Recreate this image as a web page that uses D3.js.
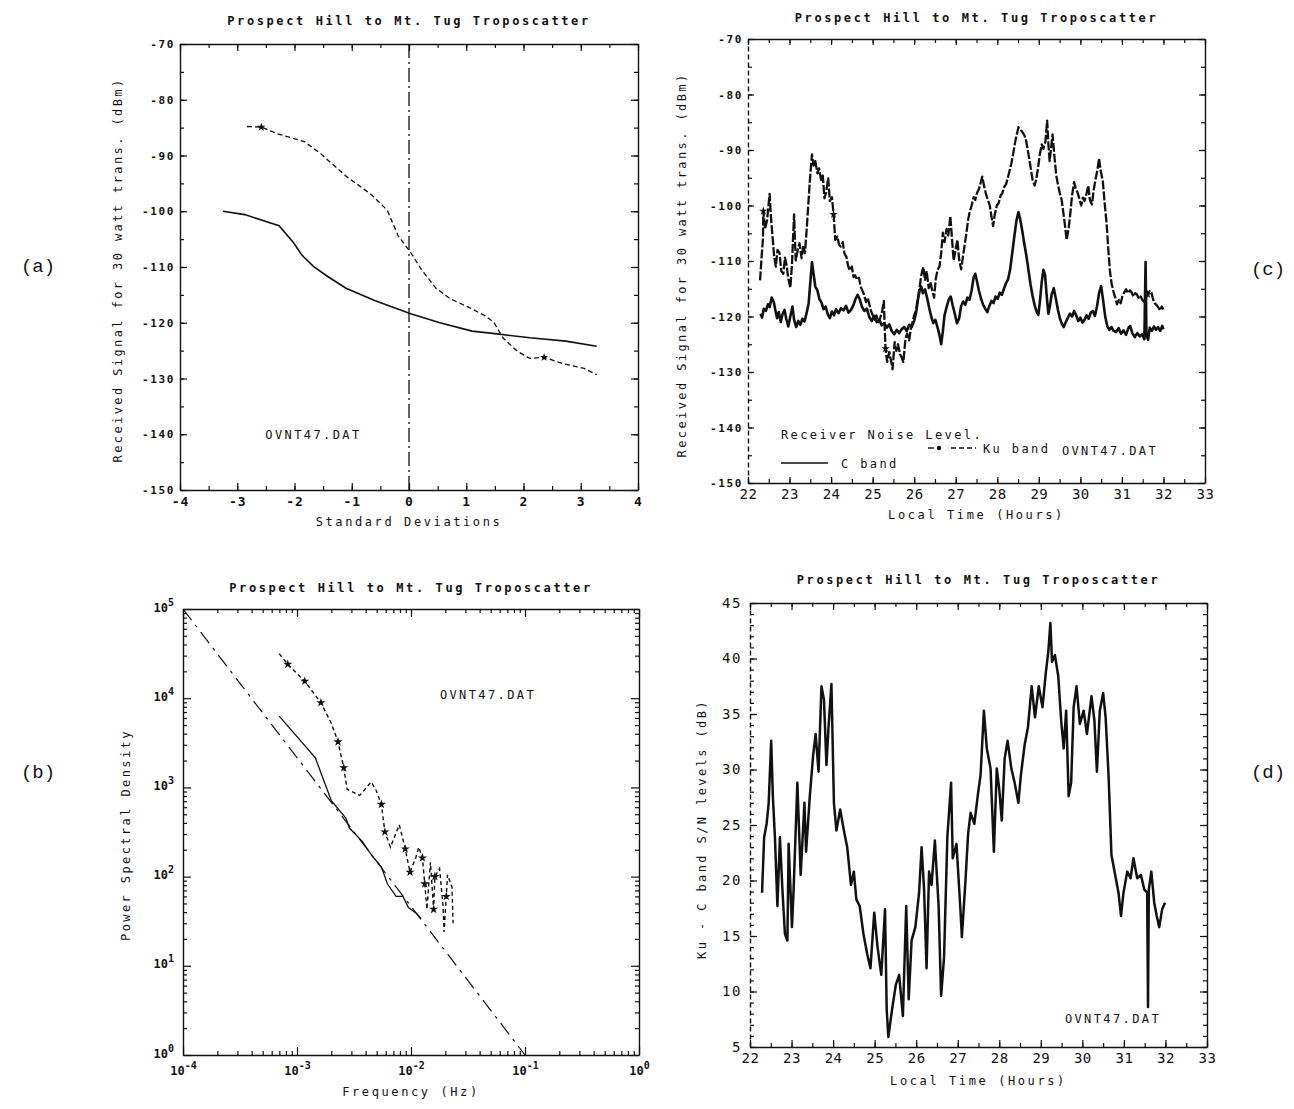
<!DOCTYPE html>
<html>
<head>
<meta charset="utf-8">
<script src="https://cdn.jsdelivr.net/npm/d3@7"></script>
<style>
  body { margin: 0; background: #fff; }
  svg text { font-family: 'DejaVu Sans Mono', monospace; fill: #111; }
  .tick line { stroke: #111; stroke-width: 1.2; }
  .domain { stroke: #111; stroke-width: 1.4; }
</style>
</head>
<body>
<script>
const W = 1294;
const H = 1109;
const TITLE = 'Prospect Hill to Mt. Tug Troposcatter';
const FILE = 'OVNT47.DAT';

// (a) cumulative distribution, standard deviations vs dBm
const aCband = [[-3.25, -100], [-2.87, -100.6], [-2.27, -102.6], [-2.02, -105.6], [-1.86, -108], [-1.67, -109.9],
  [-1.42, -111.7], [-1.1, -113.8], [-0.6, -116], [0.03, -118.4], [0.54, -120], [1.1, -121.5], [1.54, -122],
  [2.11, -122.7], [2.74, -123.3], [3.28, -124.2]];
const aKuband = [[-2.83, -84.8], [-2.58, -84.9], [-2.3, -86.1], [-1.83, -87.5], [-1.54, -89.7], [-1.1, -93.7],
  [-0.66, -97], [-0.38, -99.8], [-0.19, -104.4], [0.03, -107.4], [0.22, -110.5], [0.47, -113.8], [0.72, -115.7],
  [1.04, -117.2], [1.32, -118.7], [1.48, -119.9], [1.64, -122.7], [1.89, -125.1], [2.11, -126.4], [2.36, -126.2],
  [2.68, -127.3], [3.06, -128.2], [3.28, -129.3]];
const aKuMarks = [1, 19];
const aXTicks = [-4, -3, -2, -1, 0, 1, 2, 3, 4];
const aYTicks = [-70, -80, -90, -100, -110, -120, -130, -140, -150];

// (b) power spectral density, Hz vs PSD
const bCband = [[6.98e-4, 6300], [1.45e-3, 2140], [2.0e-3, 710], [2.69e-3, 450], [2.88e-3, 350], [3.72e-3, 250],
  [4.57e-3, 170], [5.5e-3, 129], [6.2e-3, 83], [7.4e-3, 60], [8.5e-3, 60], [9.5e-3, 45], [1.1e-2, 39], [1.23e-2, 34]];
const bKuband = [[6.98e-4, 31600], [8.3e-4, 24000], [1.17e-3, 15500], [1.62e-3, 8900], [2.0e-3, 5250],
  [2.29e-3, 3240], [2.57e-3, 1660], [2.75e-3, 955], [3.55e-3, 813], [4.47e-3, 1150], [4.9e-3, 955], [5.5e-3, 646],
  [5.9e-3, 316], [6.6e-3, 214], [7.9e-3, 380], [8.9e-3, 204], [9.8e-3, 112], [1.1e-2, 162], [1.17e-2, 214],
  [1.26e-2, 162], [1.32e-2, 83], [1.38e-2, 43], [1.48e-2, 145], [1.58e-2, 43], [1.62e-2, 100], [1.78e-2, 123],
  [1.91e-2, 47], [1.95e-2, 24], [2.04e-2, 60], [2.09e-2, 105], [2.29e-2, 76], [2.34e-2, 30]];
const bKuMarks = [1, 2, 3, 5, 6, 11, 12, 15, 16, 19, 20, 23, 24, 28];
const bSlope = [[1e-4, 1e5], [1e-1, 1]];
const bXTicks = [1e-4, 1e-3, 1e-2, 1e-1, 1];
const bYTicks = [1, 10, 100, 1e3, 1e4, 1e5];

// (c) received signal time series, hours vs dBm
const cCband = [[22.3, -119.5], [22.34, -120.2], [22.38, -118.6], [22.43, -119], [22.48, -117.8], [22.52, -118.3],
  [22.57, -116.6], [22.62, -117.4], [22.66, -118.9], [22.7, -120.3], [22.74, -119.2], [22.79, -121], [22.83, -119.6],
  [22.88, -118.8], [22.92, -120.4], [22.97, -121.8], [23.02, -119.9], [23.07, -118.2], [23.11, -120.6],
  [23.16, -121.9], [23.21, -120.8], [23.26, -121.5], [23.31, -120.4], [23.36, -120.9], [23.41, -119.4],
  [23.46, -117.6], [23.5, -113.8], [23.54, -110.2], [23.58, -112.4], [23.62, -114.6], [23.67, -115.3],
  [23.72, -116.9], [23.77, -117.5], [23.82, -118.7], [23.87, -118.2], [23.92, -119.6], [23.97, -120.3],
  [24.02, -119.1], [24.07, -119.8], [24.12, -118.7], [24.18, -119.4], [24.24, -118.5], [24.3, -118.9],
  [24.36, -118.1], [24.42, -119.3], [24.48, -118.8], [24.54, -117.9], [24.59, -116.8], [24.64, -116.1],
  [24.69, -116.9], [24.74, -118.2], [24.8, -119], [24.86, -118.6], [24.92, -120.1], [24.98, -120.8],
  [25.04, -119.9], [25.1, -121], [25.16, -120.6], [25.22, -121.6], [25.28, -121.2], [25.34, -122], [25.4, -121.4],
  [25.46, -122.6], [25.52, -123.2], [25.58, -122.4], [25.64, -123], [25.7, -122.3], [25.76, -121.9], [25.82, -122.6],
  [25.88, -121.5], [25.94, -121.9], [26, -120.8], [26.05, -119.2], [26.09, -117], [26.13, -115.4], [26.17, -114.6],
  [26.21, -115.8], [26.26, -115.1], [26.31, -116.6], [26.36, -118.4], [26.41, -120], [26.46, -121.2],
  [26.51, -120.6], [26.56, -121.9], [26.61, -123.4], [26.65, -125], [26.69, -122.7], [26.73, -119.8],
  [26.78, -118.3], [26.83, -117], [26.88, -116.4], [26.93, -118.1], [26.98, -119.6], [27.03, -121.2],
  [27.08, -120.4], [27.13, -118.1], [27.18, -117.3], [27.23, -117.9], [27.28, -116.6], [27.33, -117],
  [27.38, -115.4], [27.43, -113], [27.47, -112.3], [27.51, -113.6], [27.56, -115.4], [27.61, -116.8],
  [27.66, -117.9], [27.71, -118.6], [27.76, -119.2], [27.81, -118.1], [27.86, -117.2], [27.91, -117.6],
  [27.96, -116.4], [28.01, -116.8], [28.06, -115.7], [28.11, -116.1], [28.16, -115], [28.21, -114], [28.26, -113.3],
  [28.31, -111.5], [28.36, -108.6], [28.41, -105.6], [28.46, -102.8], [28.51, -101.2], [28.55, -102.4],
  [28.6, -104.5], [28.65, -106.9], [28.7, -109], [28.75, -111.6], [28.8, -114.2], [28.85, -116.3], [28.9, -118],
  [28.95, -119.2], [28.99, -119.7], [29.03, -117], [29.07, -113.8], [29.11, -111.6], [29.15, -112.5],
  [29.19, -116.3], [29.23, -119.5], [29.27, -118], [29.31, -116], [29.36, -114.9], [29.41, -116.8], [29.46, -118.8],
  [29.51, -120.4], [29.56, -121.4], [29.6, -121.9], [29.65, -121], [29.7, -120.2], [29.75, -119.5], [29.8, -120],
  [29.85, -119], [29.9, -119.8], [29.95, -120.8], [30, -120.2], [30.05, -121.1], [30.1, -120.6], [30.15, -119.8],
  [30.2, -120.4], [30.25, -119.3], [30.3, -119], [30.35, -119.9], [30.4, -118.2], [30.45, -115.8], [30.5, -114.5],
  [30.55, -117.2], [30.6, -120.1], [30.65, -121.8], [30.7, -122.4], [30.75, -121.9], [30.8, -122.6],
  [30.86, -122.8], [30.92, -122.1], [30.98, -123.1], [31.04, -122.5], [31.1, -123.3], [31.16, -122],
  [31.2, -121.7], [31.25, -123], [31.31, -123.7], [31.37, -123], [31.43, -123.6], [31.49, -123.2], [31.54, -124.1],
  [31.57, -110.2], [31.59, -123.4], [31.63, -124.2], [31.67, -122], [31.72, -122.6], [31.77, -121.8],
  [31.82, -122.4], [31.87, -121.9], [31.92, -122.6], [31.97, -121.7], [32, -122.3]];
const cKuband = [[22.29, -113.5], [22.33, -109], [22.36, -106], [22.37, -101], [22.41, -104.2], [22.46, -102.6],
  [22.5, -99.5], [22.52, -97.9], [22.55, -101.8], [22.59, -105.6], [22.63, -109.2], [22.67, -111], [22.71, -108],
  [22.76, -108.6], [22.8, -111.8], [22.85, -112.3], [22.89, -109.4], [22.93, -110.8], [22.97, -113.2],
  [23.02, -114.8], [23.06, -110.4], [23.09, -104.8], [23.11, -101.6], [23.13, -106.3], [23.15, -109.9],
  [23.2, -107.9], [23.24, -106.8], [23.29, -109.5], [23.33, -107.2], [23.37, -108.6], [23.41, -104.6],
  [23.45, -100], [23.49, -95.4], [23.54, -90.8], [23.58, -92.8], [23.62, -92], [23.67, -94.2], [23.71, -93.3],
  [23.76, -95.4], [23.8, -94.6], [23.84, -98.7], [23.88, -97.6], [23.93, -95.1], [23.97, -99.2], [24.02, -98.5],
  [24.06, -101.6], [24.1, -106.2], [24.15, -105.6], [24.19, -107], [24.23, -107.4], [24.28, -106.6],
  [24.32, -108.6], [24.37, -109.3], [24.41, -110.9], [24.45, -111.7], [24.5, -111], [24.54, -112.9],
  [24.58, -112.6], [24.63, -113.4], [24.67, -113], [24.71, -114.6], [24.75, -115.3], [24.79, -116],
  [24.84, -117.4], [24.88, -116.6], [24.92, -117.8], [24.96, -119], [25, -119.7], [25.05, -120.6], [25.09, -119.8],
  [25.14, -121], [25.18, -120.3], [25.23, -119], [25.27, -117.2], [25.29, -121.8], [25.31, -125.8],
  [25.35, -128.2], [25.4, -126.4], [25.44, -127.9], [25.48, -129.5], [25.53, -124.6], [25.57, -126.2],
  [25.61, -125], [25.66, -126.8], [25.7, -127.4], [25.74, -128.2], [25.79, -124], [25.83, -123.1], [25.88, -124.3],
  [25.92, -122.1], [25.96, -121], [26, -119.8], [26.04, -119], [26.09, -116.6], [26.13, -114.8], [26.17, -112.6],
  [26.22, -111.1], [26.26, -113.4], [26.3, -111.8], [26.35, -114.9], [26.39, -113.8], [26.44, -115.5],
  [26.48, -116.6], [26.52, -113.2], [26.56, -111.7], [26.61, -110.9], [26.65, -108.6], [26.69, -104.9],
  [26.73, -106.6], [26.78, -104.2], [26.82, -105.4], [26.87, -101.9], [26.91, -106], [26.95, -109.9],
  [27, -107.8], [27.04, -106.2], [27.08, -109.6], [27.13, -111.5], [27.17, -109.4], [27.21, -107.4],
  [27.26, -104.8], [27.3, -102.5], [27.34, -101], [27.38, -100.1], [27.43, -98.5], [27.47, -99], [27.51, -97.8],
  [27.56, -97], [27.6, -95.9], [27.64, -94.8], [27.68, -96.4], [27.73, -98], [27.77, -98.9], [27.82, -100],
  [27.86, -102], [27.9, -103.7], [27.94, -101.6], [27.99, -100], [28.03, -99.6], [28.08, -98.2], [28.12, -97.8],
  [28.17, -96.6], [28.21, -96.2], [28.25, -95.1], [28.3, -93.6], [28.34, -92.4], [28.38, -90.8], [28.43, -88.6],
  [28.47, -87.2], [28.51, -85.9], [28.55, -86.4], [28.59, -86.6], [28.64, -87.2], [28.68, -87.8], [28.72, -89.4],
  [28.77, -91.6], [28.81, -93.5], [28.85, -95.4], [28.9, -96.4], [28.94, -95.2], [28.98, -93.3], [29.02, -91],
  [29.07, -89], [29.11, -89.8], [29.16, -88.4], [29.2, -84.7], [29.23, -88.9], [29.26, -92], [29.3, -89.4],
  [29.33, -87.2], [29.38, -91.5], [29.42, -94.6], [29.46, -96.2], [29.5, -97.6], [29.55, -99], [29.59, -101.3],
  [29.63, -103.6], [29.67, -106.2], [29.72, -104], [29.76, -101.3], [29.8, -98.2], [29.85, -95.8], [29.89, -97],
  [29.93, -97.6], [29.98, -98.9], [30.02, -100], [30.06, -98.6], [30.1, -99.2], [30.15, -97.8], [30.19, -96.4],
  [30.23, -99], [30.28, -99.8], [30.32, -97.2], [30.37, -95.1], [30.41, -93.6], [30.45, -91.5], [30.49, -93.8],
  [30.54, -95.6], [30.58, -99.2], [30.63, -103.1], [30.67, -107.6], [30.71, -111.7], [30.75, -114],
  [30.8, -115.6], [30.84, -116.6], [30.88, -117.8], [30.93, -117], [30.97, -117.6], [31.01, -116.4],
  [31.06, -115.6], [31.1, -115.1], [31.15, -115.8], [31.19, -115.3], [31.23, -115.6], [31.28, -116.4],
  [31.32, -115.8], [31.36, -116], [31.41, -116.8], [31.45, -116.4], [31.49, -117], [31.54, -117.4],
  [31.58, -116.6], [31.62, -116], [31.67, -115.4], [31.71, -115.7], [31.75, -116.9], [31.79, -117.6],
  [31.84, -118], [31.88, -118.4], [31.92, -118.9], [31.96, -118.2], [32, -118.7]];
const cKuMarkHours = [22.37, 24.06, 25.31, 31.62];
const cYTicks = [-70, -80, -90, -100, -110, -120, -130, -140, -150];
const hourTicks = [22, 23, 24, 25, 26, 27, 28, 29, 30, 31, 32, 33];

// (d) Ku - C band S/N difference, hours vs dB
const dDiff = [[22.29, 18.9], [22.34, 23.9], [22.4, 25.1], [22.45, 27], [22.51, 32.6], [22.55, 27.6], [22.6, 23.9],
  [22.66, 17.7], [22.72, 23.9], [22.78, 19.2], [22.84, 15.2], [22.9, 14.6], [22.93, 23.3], [23.01, 15.8],
  [23.05, 19.2], [23.14, 28.8], [23.22, 20.5], [23.31, 27], [23.35, 22.6], [23.44, 27.6], [23.52, 31.3],
  [23.58, 33.2], [23.65, 29.8], [23.72, 37.5], [23.78, 36.3], [23.84, 30.4], [23.89, 33.8], [23.96, 37.7],
  [24.02, 27], [24.08, 24.5], [24.17, 26.4], [24.26, 24.5], [24.34, 23], [24.43, 19.6], [24.5, 20.8],
  [24.56, 18.3], [24.64, 17.7], [24.73, 15.2], [24.82, 13.4], [24.9, 12.1], [24.99, 17.1], [25.07, 14],
  [25.16, 11.5], [25.25, 17.4], [25.29, 8.4], [25.33, 5.9], [25.42, 8.4], [25.51, 10.6], [25.59, 11.5],
  [25.68, 7.8], [25.76, 17.7], [25.82, 9.3], [25.89, 14.6], [25.98, 15.8], [26.07, 18.9], [26.13, 23],
  [26.19, 19.2], [26.25, 12.1], [26.31, 20.8], [26.37, 19.6], [26.45, 23.6], [26.54, 17.7], [26.6, 9.6],
  [26.67, 13], [26.75, 23.9], [26.84, 28.8], [26.88, 22], [26.97, 23.3], [27.06, 17.7], [27.1, 14.9],
  [27.19, 20.2], [27.25, 24.2], [27.31, 26.1], [27.4, 25.1], [27.49, 27.9], [27.55, 29.5], [27.63, 35.3],
  [27.7, 31.9], [27.79, 30.1], [27.87, 22.6], [27.94, 30.1], [28, 28.2], [28.06, 25.4], [28.13, 31],
  [28.2, 32.6], [28.29, 30.1], [28.37, 28.8], [28.46, 27], [28.52, 29.5], [28.61, 32.2], [28.69, 33.8],
  [28.78, 37.5], [28.86, 34.7], [28.95, 37.5], [29.04, 35.6], [29.12, 38.7], [29.18, 40.6], [29.23, 43.2],
  [29.27, 39.7], [29.34, 40.3], [29.42, 38.4], [29.49, 34.4], [29.55, 31.9], [29.61, 35.3], [29.67, 27.6],
  [29.73, 28.8], [29.79, 35.6], [29.86, 37.5], [29.94, 34.1], [30.03, 35.3], [30.11, 33.2], [30.22, 36.6],
  [30.29, 34.4], [30.35, 29.8], [30.42, 35.3], [30.5, 36.9], [30.56, 34.7], [30.63, 29.5], [30.7, 22.3],
  [30.79, 20.5], [30.87, 18.9], [30.93, 16.8], [30.99, 18.9], [31.08, 20.8], [31.16, 20.2], [31.23, 22],
  [31.32, 20.2], [31.41, 20.5], [31.49, 19.2], [31.56, 18.9], [31.58, 8.6], [31.6, 19.2], [31.66, 20.8],
  [31.73, 18], [31.79, 16.8], [31.85, 15.8], [31.92, 17.4], [31.99, 18]];
const dYTicks = [5, 10, 15, 20, 25, 30, 35, 40, 45];

const svg = d3.select('body').append('svg').attr('width', W).attr('height', H);

function range(a, b, step) {
  const out = [];
  for (let v = a; v <= b + 1e-9; v += step) out.push(+v.toFixed(4));
  return out;
}

// four-sided frame with inward ticks, labels only on bottom and left
function frame(g, x, y, o) {
  const w = x.range()[1];
  const h = y.range()[0];
  const sides = [
    [d3.axisBottom, x, `translate(0,${h})`, o.xMinor],
    [d3.axisTop, x, 'translate(0,0)', o.xMinor],
    [d3.axisLeft, y, 'translate(0,0)', o.yMinor],
    [d3.axisRight, y, `translate(${w},0)`, o.yMinor],
  ];
  sides.forEach(([fn, sc, tr, vals]) => {
    g.append('g').attr('class', 'minor').attr('transform', tr)
      .call(fn(sc).tickValues(vals).tickSize(-o.minor).tickFormat(''))
      .select('.domain').remove();
  });
  g.append('g').attr('transform', 'translate(0,0)')
    .call(d3.axisTop(x).tickValues(o.xMajor).tickSizeInner(-o.major).tickSizeOuter(0).tickFormat(''));
  const right = g.append('g').attr('transform', `translate(${w},0)`)
    .call(d3.axisRight(y).tickValues(o.yMajor).tickSizeInner(-o.major).tickSizeOuter(0).tickFormat(''));
  const bottom = g.append('g').attr('transform', `translate(0,${h})`)
    .call(d3.axisBottom(x).tickValues(o.xMajor).tickSizeInner(-o.major).tickSizeOuter(0)
      .tickPadding(o.xPad).tickFormat(o.xFmt || (d => String(d))));
  const left = g.append('g').attr('transform', 'translate(0,0)')
    .call(d3.axisLeft(y).tickValues(o.yMajor).tickSizeInner(-o.major).tickSizeOuter(0)
      .tickPadding(o.yPad).tickFormat(o.yFmt || (d => String(d))));
  bottom.selectAll('text').style('font-size', o.xFont).style('font-weight', o.xWeight || 'bold')
    .style('letter-spacing', o.xSpacing || '1px');
  left.selectAll('text').style('font-size', o.yFont).style('font-weight', o.yWeight || 'bold')
    .style('letter-spacing', '1.6px');
  if (o.dashedLeft) left.select('.domain').attr('stroke-dasharray', '5,3');
  return { bottom, left, right };
}

function title(g, w, dy, text) {
  g.append('text').attr('x', w / 2).attr('y', dy).attr('text-anchor', 'middle')
    .style('font-size', '12px').style('font-weight', 'bold').style('letter-spacing', '2.6px').text(text);
}

function xTitle(g, w, dy, text) {
  g.append('text').attr('x', w / 2).attr('y', dy).attr('text-anchor', 'middle')
    .style('font-size', '12px').style('letter-spacing', '2.6px').text(text);
}

function yTitle(g, dx, cy, text) {
  g.append('text').attr('transform', `translate(${dx},${cy}) rotate(-90)`).attr('text-anchor', 'middle')
    .style('font-size', '12px').style('letter-spacing', '2.4px').text(text);
}

function note(g, px, py, text, anchor) {
  g.append('text').attr('x', px).attr('y', py).attr('text-anchor', anchor || 'middle')
    .style('font-size', '12px').style('letter-spacing', '2.4px').text(text);
}

function markers(g, x, y, pts, size) {
  g.selectAll(null).data(pts.filter(Boolean)).join('path')
    .attr('d', d3.symbol(d3.symbolStar, size))
    .attr('transform', d => `translate(${x(d[0])},${y(d[1])})`)
    .attr('fill', '#111');
}

function panelLabel(px, py, text) {
  svg.append('text').attr('x', px).attr('y', py).attr('text-anchor', 'middle')
    .style('font-family', "'Liberation Mono', 'Courier New', monospace").style('font-size', '19px').text(text);
}

// ---------- (a) ----------
{
  const w = 458, h = 446;
  const g = svg.append('g').attr('transform', 'translate(180,44)');
  const x = d3.scaleLinear().domain([-4, 4]).range([0, w]);
  const y = d3.scaleLinear().domain([-150, -70]).range([h, 0]);
  frame(g, x, y, { xMajor: aXTicks, xMinor: range(-4, 4, 0.5), yMajor: aYTicks, yMinor: range(-150, -70, 5),
    major: 7, minor: 4, xPad: 7, yPad: 5, xFont: '13px', yFont: '11px' });
  g.append('line').attr('x1', x(0)).attr('x2', x(0)).attr('y1', y(-70)).attr('y2', y(-150))
    .attr('stroke', '#111').attr('stroke-width', 1.3).attr('stroke-dasharray', '14,4,2,4');
  const line = d3.line().x(d => x(d[0])).y(d => y(d[1]));
  g.append('path').datum(aCband).attr('d', line).attr('fill', 'none').attr('stroke', '#111').attr('stroke-width', 1.6);
  g.append('path').datum(aKuband).attr('d', line).attr('fill', 'none').attr('stroke', '#111')
    .attr('stroke-width', 1.3).attr('stroke-dasharray', '5,3');
  markers(g, x, y, aKuMarks.map(i => aKuband[i]), 22);
  title(g, w, -19, TITLE);
  xTitle(g, w, h + 36, 'Standard Deviations');
  yTitle(g, -58, 226, 'Received Signal for 30 watt trans. (dBm)');
  note(g, x(-1.67), y(-140.2) + 4, FILE);
}

// ---------- (b) ----------
{
  const w = 456, h = 446;
  const g = svg.append('g').attr('transform', 'translate(183,609)');
  const x = d3.scaleLog().domain([1e-4, 1]).range([0, w]);
  const y = d3.scaleLog().domain([1, 1e5]).range([h, 0]);
  const xMinor = [];
  const yMinor = [];
  [-4, -3, -2, -1].forEach(e => d3.range(2, 10).forEach(k => xMinor.push(k * 10 ** e)));
  [0, 1, 2, 3, 4].forEach(e => d3.range(2, 10).forEach(k => yMinor.push(k * 10 ** e)));
  const ax = frame(g, x, y, { xMajor: bXTicks, xMinor, yMajor: bYTicks, yMinor,
    major: 8, minor: 4, xPad: 8, yPad: 7, xFont: '12px', yFont: '12px', xFmt: () => '', yFmt: () => '' });
  // power-of-ten labels
  ax.bottom.selectAll('.tick').append('text').attr('y', 20).attr('text-anchor', 'middle')
    .style('font-size', '12px').style('font-weight', 'bold').attr('fill', '#111')
    .each(function (d) {
      const t = d3.select(this);
      t.append('tspan').text('10');
      t.append('tspan').attr('dy', -6).style('font-size', '10px').text(Math.round(Math.log10(d)));
    });
  ax.left.selectAll('.tick').append('text').attr('x', -9).attr('y', 2).attr('text-anchor', 'end')
    .style('font-size', '12px').style('font-weight', 'bold').attr('fill', '#111')
    .each(function (d) {
      const t = d3.select(this);
      t.append('tspan').text('10');
      t.append('tspan').attr('dy', -6).style('font-size', '10px').text(Math.round(Math.log10(d)));
    });
  const line = d3.line().x(d => x(d[0])).y(d => y(d[1]));
  g.append('path').datum(bSlope).attr('d', line).attr('fill', 'none').attr('stroke', '#111')
    .attr('stroke-width', 1.2).attr('stroke-dasharray', '14,6,3,6');
  g.append('path').datum(bCband).attr('d', line).attr('fill', 'none').attr('stroke', '#111').attr('stroke-width', 1.3);
  g.append('path').datum(bKuband).attr('d', line).attr('fill', 'none').attr('stroke', '#111')
    .attr('stroke-width', 1.4).attr('stroke-dasharray', '4,3');
  markers(g, x, y, bKuMarks.map(i => bKuband[i]), 26);
  title(g, w, -17, TITLE);
  xTitle(g, w, h + 41, 'Frequency (Hz)');
  yTitle(g, -53, 226, 'Power Spectral Density');
  note(g, 305, 90, FILE);
}

// ---------- (c) ----------
{
  const w = 457, h = 444;
  const g = svg.append('g').attr('transform', 'translate(748,39)');
  const x = d3.scaleLinear().domain([22, 33]).range([0, w]);
  const y = d3.scaleLinear().domain([-150, -70]).range([h, 0]);
  frame(g, x, y, { xMajor: hourTicks, xMinor: range(22, 33, 0.5), yMajor: cYTicks, yMinor: range(-150, -70, 5),
    major: 6, minor: 4, xPad: 6, yPad: 5, xFont: '14px', yFont: '11px', xWeight: 'normal', xSpacing: '0.5px',
    dashedLeft: true });
  const line = d3.line().x(d => x(d[0])).y(d => y(d[1]));
  g.append('path').datum(cKuband).attr('d', line).attr('fill', 'none').attr('stroke', '#111')
    .attr('stroke-width', 2.3).attr('stroke-dasharray', '9,2').attr('stroke-linejoin', 'round');
  g.append('path').datum(cCband).attr('d', line).attr('fill', 'none').attr('stroke', '#111')
    .attr('stroke-width', 2.6).attr('stroke-linejoin', 'round');
  markers(g, x, y, cKuMarkHours.map(t => cKuband.find(d => d[0] === t)), 22);
  title(g, w, -17, TITLE);
  xTitle(g, w, h + 36, 'Local Time (Hours)');
  yTitle(g, -62, 226, 'Received Signal for 30 watt trans. (dBm)');
  // legend
  note(g, 33, 400, 'Receiver Noise Level.', 'start');
  g.append('line').attr('x1', 180).attr('x2', 186).attr('y1', 409).attr('y2', 409)
    .attr('stroke', '#111').attr('stroke-width', 1.4);
  g.append('circle').attr('cx', 191).attr('cy', 409).attr('r', 2.2).attr('fill', '#111');
  g.append('line').attr('x1', 203).attr('x2', 228).attr('y1', 409).attr('y2', 409)
    .attr('stroke', '#111').attr('stroke-width', 1.4).attr('stroke-dasharray', '5,3');
  note(g, 235, 414, 'Ku band', 'start');
  note(g, 362, 416, FILE);
  g.append('line').attr('x1', 33).attr('x2', 80).attr('y1', 424).attr('y2', 424)
    .attr('stroke', '#111').attr('stroke-width', 1.6);
  note(g, 93, 429, 'C band', 'start');
}

// ---------- (d) ----------
{
  const w = 457, h = 444;
  const g = svg.append('g').attr('transform', 'translate(750,603)');
  const x = d3.scaleLinear().domain([22, 33]).range([0, w]);
  const y = d3.scaleLinear().domain([5, 45]).range([h, 0]);
  frame(g, x, y, { xMajor: hourTicks, xMinor: range(22, 33, 0.5), yMajor: dYTicks, yMinor: range(5, 45, 1),
    major: 7, minor: 4, xPad: 6, yPad: 8, xFont: '14px', yFont: '14px', xWeight: 'normal', yWeight: 'normal',
    xSpacing: '0.5px', dashedLeft: true });
  const line = d3.line().x(d => x(d[0])).y(d => y(d[1]));
  g.append('path').datum(dDiff).attr('d', line).attr('fill', 'none').attr('stroke', '#111')
    .attr('stroke-width', 2.5).attr('stroke-linejoin', 'round');
  title(g, w, -19, TITLE);
  xTitle(g, w, h + 38, 'Local Time (Hours)');
  yTitle(g, -44, 226, 'Ku - C band S/N levels (dB)');
  note(g, 363, 420, FILE);
}

panelLabel(38, 272, '(a)');
panelLabel(38, 778, '(b)');
panelLabel(1268, 275, '(c)');
panelLabel(1268, 778, '(d)');
</script>
</body>
</html>
